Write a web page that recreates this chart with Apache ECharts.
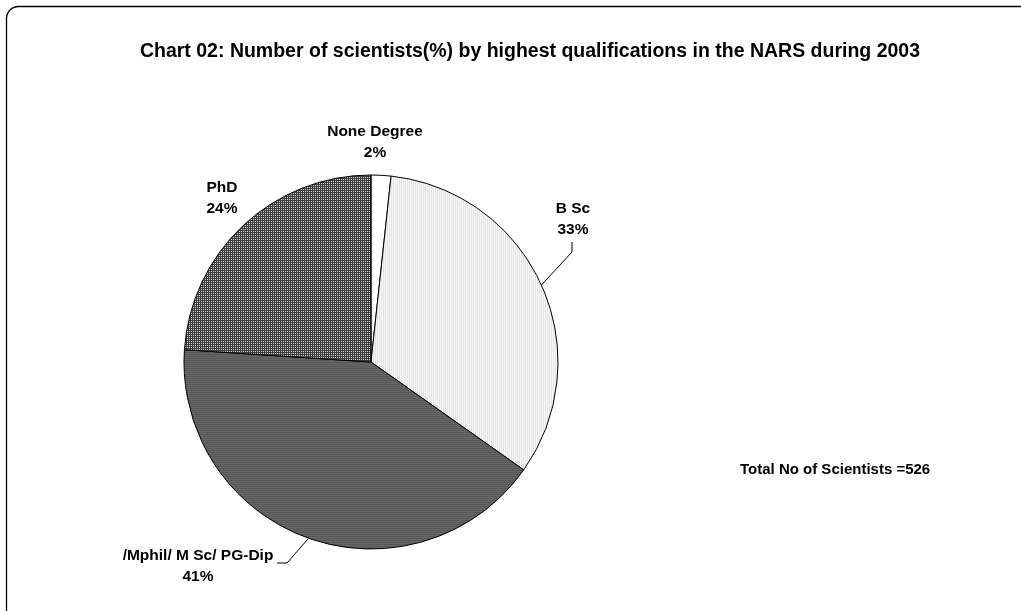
<!DOCTYPE html>
<html>
<head>
<meta charset="utf-8">
<script src="https://cdn.jsdelivr.net/npm/echarts@6/dist/echarts.min.js"></script>
<style>
  html, body { margin: 0; padding: 0; background: #fff; }
  #chart { width: 1021px; height: 611px; }
</style>
</head>
<body>
<div id="chart"></div>
<script>
// data (counts sum to 526)
var categories = ["None Degree", "B Sc", "/Mphil/ M Sc/ PG-Dip", "PhD"];
var counts = [9, 174, 217, 126];
var totalText = "Total No of Scientists =526";

// small canvas patterns to mimic the printed hatching
function makePattern(w, h, pixels) {
  var c = document.createElement("canvas");
  c.width = w;
  c.height = h;
  var ctx = c.getContext("2d");
  for (var y = 0; y < h; y++) {
    for (var x = 0; x < w; x++) {
      ctx.fillStyle = pixels[y][x];
      ctx.fillRect(x, y, 1, 1);
    }
  }
  return { image: c, repeat: "repeat" };
}

var fills = [
  "#ffffff",
  makePattern(2, 1, [["#f8f8f8", "#e4e4e4"]]),
  makePattern(1, 2, [["#595959"], ["#666666"]]),
  makePattern(2, 2, [["#3c3c3c", "#3c3c3c"], ["#3c3c3c", "#d6d6d6"]])
];

var myChart = echarts.init(document.getElementById("chart"));

var pieData = categories.map(function (name, i) {
  return {
    name: name,
    value: counts[i],
    itemStyle: { color: fills[i] },
    labelLine: { show: i === 1 || i === 2 }
  };
});

// label block placement (centre of the two-line text)
var labelPos = [
  { x: 375, y: 142 },
  { x: 573, y: 219 },
  { x: 198, y: 566 },
  { x: 222, y: 198 }
];

myChart.setOption({
  animation: false,
  backgroundColor: "#ffffff",
  title: [
    {
      text: "Chart 02: Number of scientists(%) by highest qualifications in the NARS during 2003",
      left: 525,
      top: 37,
      textAlign: "center",
      textStyle: {
        fontFamily: "Liberation Sans",
        fontSize: 19.5,
        fontWeight: "bold",
        color: "#000"
      }
    },
    {
      text: totalText,
      left: 735,
      top: 457,
      textStyle: {
        fontFamily: "Liberation Sans",
        fontSize: 15,
        fontWeight: "bold",
        color: "#000"
      }
    }
  ],
  graphic: [
    {
      type: "rect",
      shape: { x: 6.5, y: 6.5, width: 1040, height: 640, r: 12 },
      style: { fill: "none", stroke: "#000", lineWidth: 1.3 },
      silent: true
    }
  ],
  series: [
    {
      type: "pie",
      center: [371, 362],
      radius: 187,
      startAngle: 90,
      clockwise: true,
      percentPrecision: 0,
      avoidLabelOverlap: false,
      itemStyle: {
        borderColor: "#000",
        borderWidth: 1
      },
      emphasis: { disabled: true },
      label: {
        show: true,
        position: "outside",
        formatter: "{b}\n{d}%",
        fontFamily: "Liberation Sans",
        fontSize: 15.5,
        fontWeight: "bold",
        lineHeight: 21,
        color: "#000",
        align: "center"
      },
      labelLine: {
        show: true,
        length: 10,
        length2: 10,
        lineStyle: { color: "#000", width: 1 }
      },
      labelLayout: function (params) {
        var i = params.dataIndex;
        var p = labelPos[i];
        var out = {
          x: p.x,
          y: p.y,
          align: "center",
          verticalAlign: "middle"
        };
        var start = params.labelLinePoints ? params.labelLinePoints[0] : null;
        if (start && i === 1) {
          out.labelLinePoints = [start, [p.x - 1, p.y + 33], [p.x - 1, p.y + 23]];
        }
        if (start && i === 2) {
          out.labelLinePoints = [start, [p.x + 89, p.y - 3], [p.x + 79, p.y - 3]];
        }
        return out;
      },
      data: pieData
    }
  ]
});
</script>
</body>
</html>
